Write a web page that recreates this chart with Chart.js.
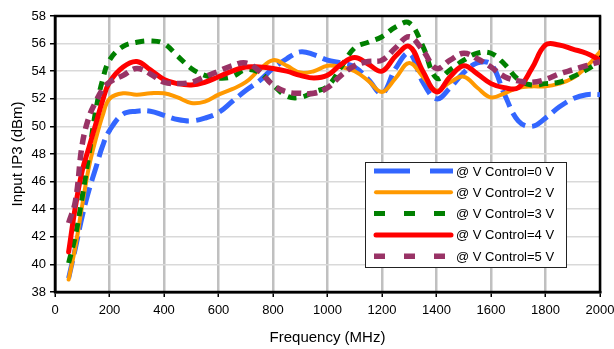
<!DOCTYPE html>
<html>
<head>
<meta charset="utf-8">
<script src="https://cdn.jsdelivr.net/npm/chart.js@4.4.0/dist/chart.umd.min.js"></script>
<style>
  body { margin: 0; background: #fff; }
  canvas { display: block; }
</style>
</head>
<body>
<canvas id="ip3Chart" width="614" height="349"></canvas>
<script>
// frequency points (MHz)
var freq = [50, 75, 100, 125, 150, 175, 200, 250, 300, 350, 400, 450, 500, 550, 600, 650, 700, 750, 800, 850,
            900, 950, 1000, 1050, 1100, 1150, 1200, 1250, 1300, 1350, 1400, 1450, 1500, 1550, 1600, 1650, 1700,
            1750, 1800, 1850, 1900, 1950, 2000];

var ip3_v0 = [39.0, 41.2, 43.5, 45.4, 47.0, 48.6, 49.7, 50.9, 51.1, 51.1, 50.8, 50.5, 50.4, 50.6, 51.0, 51.8, 52.6,
              53.3, 54.2, 54.9, 55.4, 55.2, 54.8, 54.6, 54.3, 53.4, 52.4, 54.2, 55.3, 53.2, 52.0, 52.8, 53.9, 54.6,
              54.5, 52.3, 50.4, 50.0, 50.6, 51.4, 52.0, 52.3, 52.3];
var ip3_v2 = [38.9, 41.3, 44.3, 47.1, 49.1, 50.8, 52.0, 52.4, 52.3, 52.4, 52.4, 52.1, 51.7, 51.8, 52.3, 52.7, 53.2,
              54.1, 54.8, 54.4, 53.9, 54.0, 54.4, 54.3, 54.0, 53.3, 52.5, 53.5, 54.6, 53.6, 52.6, 53.2, 53.6, 52.8,
              52.1, 52.4, 52.8, 52.9, 52.9, 53.1, 53.5, 54.3, 55.4];
var ip3_v3 = [40.1, 42.1, 44.9, 48.0, 51.2, 53.4, 54.8, 55.8, 56.1, 56.2, 56.0, 55.1, 54.2, 53.7, 53.5, 53.6, 54.1,
              53.9, 53.0, 52.2, 52.1, 52.5, 52.9, 54.3, 55.7, 56.1, 56.5, 57.2, 57.5, 55.8, 53.5, 54.1, 54.8, 55.3,
              55.3, 54.5, 53.4, 53.0, 53.1, 53.2, 53.6, 54.1, 54.7];
var ip3_v4 = [40.9, 44.2, 46.8, 48.5, 50.2, 51.9, 53.2, 54.3, 54.7, 54.1, 53.4, 53.1, 53.0, 53.2, 53.6, 54.0, 54.3,
              54.3, 54.2, 54.0, 53.7, 53.5, 53.7, 54.5, 55.0, 54.5, 54.0, 55.1, 55.8, 54.0, 52.5, 53.6, 54.4, 53.8,
              53.1, 52.8, 52.8, 54.2, 55.9, 55.9, 55.6, 55.3, 54.8];
var ip3_v5 = [43.0, 44.6, 48.7, 50.7, 51.8, 52.7, 53.2, 53.7, 54.2, 53.8, 53.2, 53.1, 53.2, 53.6, 54.0, 54.4, 54.6,
              54.0, 53.0, 52.5, 52.4, 52.4, 52.8, 53.7, 54.4, 54.7, 54.8, 55.7, 56.5, 55.5, 54.2, 54.8, 55.3, 54.9,
              54.3, 53.6, 53.3, 53.2, 53.4, 53.8, 54.1, 54.4, 54.7];

var seriesLabels = ['@ V Control=0 V', '@ V Control=2 V', '@ V Control=3 V', '@ V Control=4 V', '@ V Control=5 V'];
var xTicks = [0, 200, 400, 600, 800, 1000, 1200, 1400, 1600, 1800, 2000];
var yTicks = [38, 40, 42, 44, 46, 48, 50, 52, 54, 56, 58];

var fontFamily = "'Liberation Sans', Arial, sans-serif";

function points(vals) {
    return freq.map(function(f, i) { return {x: f, y: vals[i]}; });
}

// legend sample styles (Excel draws its own dash scale there)
var legendDash = [[36, 20], [], [11, 19], [], [11, 19]];

const legendBox = {
    id: 'legendBox',
    afterDatasetsDraw(chart) {
        const ctx = chart.ctx;
        const ds = chart.data.datasets;
        ctx.save();
        ctx.fillStyle = '#fff';
        ctx.fillRect(365, 162, 202, 106);
        ctx.lineWidth = 1;
        ctx.strokeStyle = '#222';
        ctx.strokeRect(365.5, 162.5, 201, 105);
        ctx.font = '13px ' + fontFamily;
        ctx.textBaseline = 'middle';
        ctx.textAlign = 'left';
        for (var i = 0; i < ds.length; i++) {
            var y = 171 + i * 21.3;
            ctx.beginPath();
            ctx.setLineDash(legendDash[i]);
            ctx.lineCap = ds[i].borderCapStyle;
            ctx.strokeStyle = ds[i].borderColor;
            ctx.lineWidth = ds[i].borderWidth;
            var x0 = ds[i].borderCapStyle === 'round' ? 376 : 374;
            var x1 = ds[i].borderCapStyle === 'round' ? 451 : 453;
            ctx.moveTo(x0, y);
            ctx.lineTo(x1, y);
            ctx.stroke();
            ctx.setLineDash([]);
            ctx.fillStyle = '#000';
            ctx.fillText(ds[i].label, 456, y + 1);
        }
        ctx.restore();
    }
};

// black frame round the plot area
const plotFrame = {
    id: 'plotFrame',
    beforeDatasetsDraw(chart) {
        const a = chart.chartArea;
        const ctx = chart.ctx;
        ctx.save();
        ctx.strokeStyle = '#000';
        ctx.lineWidth = 2.5;
        ctx.strokeRect(a.left, a.top, a.right - a.left, a.bottom - a.top);
        ctx.restore();
    }
};

const chartData = {
    datasets: [{
        label: seriesLabels[0],
        data: points(ip3_v0),
        borderColor: '#3366FF',
        borderWidth: 5,
        borderDash: [18, 7],
        borderCapStyle: 'butt',
        order: 4
    }, {
        label: seriesLabels[1],
        data: points(ip3_v2),
        borderColor: '#FF9900',
        borderWidth: 4,
        borderCapStyle: 'round',
        order: 3
    }, {
        label: seriesLabels[2],
        data: points(ip3_v3),
        borderColor: '#008000',
        borderWidth: 5,
        borderDash: [9, 7],
        borderCapStyle: 'butt',
        order: 2
    }, {
        label: seriesLabels[3],
        data: points(ip3_v4),
        borderColor: '#FF0000',
        borderWidth: 5,
        borderCapStyle: 'round',
        order: 1
    }, {
        label: seriesLabels[4],
        data: points(ip3_v5),
        borderColor: '#993366',
        borderWidth: 5.5,
        borderDash: [10, 6],
        borderCapStyle: 'butt',
        order: 0
    }]
};

const config = {
    type: 'line',
    data: chartData,
    options: {
        responsive: false,
        animation: false,
        layout: {
            padding: {top: 16, right: 14, left: 0, bottom: 0}
        },
        elements: {
            point: {radius: 0},
            line: {tension: 0.4, fill: false}
        },
        plugins: {
            legend: {display: false},
            tooltip: {enabled: false}
        },
        scales: {
            x: {
                type: 'linear',
                min: 0,
                max: 2000,
                afterBuildTicks: function(scale) {
                    scale.ticks = xTicks.map(function(v) { return {value: v}; });
                },
                afterFit: function(scale) {
                    scale.height = 57;
                    scale.paddingLeft = 0;
                    scale.paddingRight = 0;
                },
                grid: {
                    color: '#C0C0C0',
                    lineWidth: 2.5,
                    tickColor: '#000',
                    tickLength: 5,
                    tickWidth: 1.5
                },
                border: {color: '#000', width: 2.5},
                ticks: {
                    color: '#000',
                    maxRotation: 0,
                    padding: 6,
                    font: {family: fontFamily, size: 13},
                    callback: function(value) { return String(value); }
                },
                title: {
                    display: true,
                    text: 'Frequency (MHz)',
                    color: '#000',
                    padding: {top: 0, bottom: 2},
                    font: {family: fontFamily, size: 15}
                }
            },
            y: {
                min: 38,
                max: 58,
                afterBuildTicks: function(scale) {
                    scale.ticks = yTicks.map(function(v) { return {value: v}; });
                },
                afterFit: function(scale) {
                    scale.width = 55;
                    scale.paddingTop = 0;
                    scale.paddingBottom = 0;
                },
                grid: {
                    color: '#D9D9D9',
                    lineWidth: 1.5,
                    tickColor: '#000',
                    tickLength: 5,
                    tickWidth: 1.5
                },
                border: {color: '#000', width: 2.5},
                ticks: {
                    color: '#000',
                    padding: 4,
                    font: {family: fontFamily, size: 13},
                    callback: function(value) { return String(value); }
                },
                title: {
                    display: true,
                    text: 'Input IP3 (dBm)',
                    color: '#000',
                    padding: {top: 9, bottom: 0},
                    font: {family: fontFamily, size: 15}
                }
            }
        }
    },
    plugins: [plotFrame, legendBox]
};

new Chart(document.getElementById('ip3Chart'), config);
</script>
</body>
</html>
